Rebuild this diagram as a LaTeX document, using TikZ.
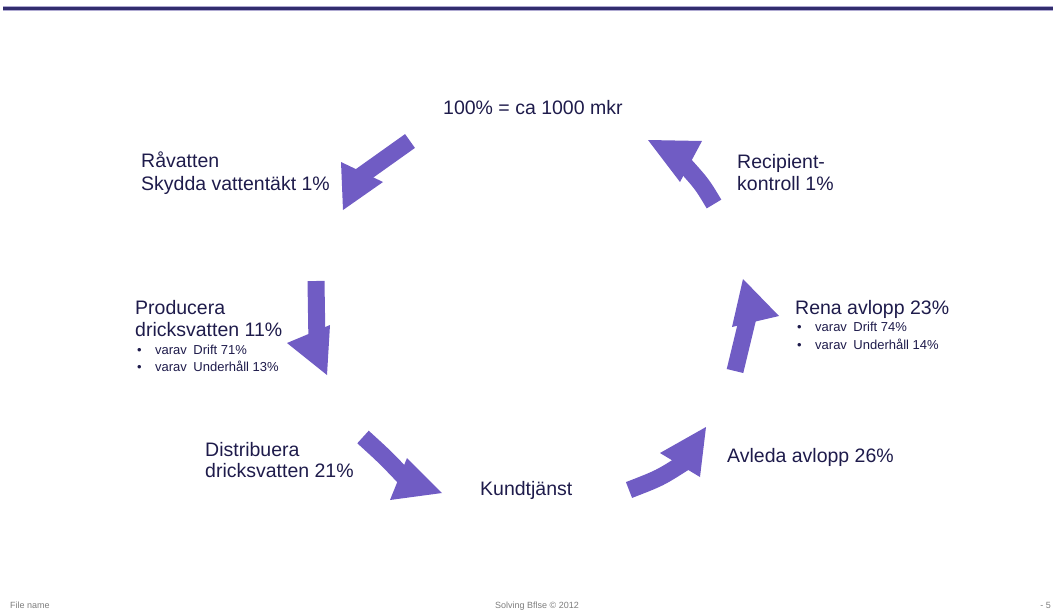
\documentclass[tikz,border=0pt]{standalone}
\usepackage{fontspec}
\setmainfont{Liberation Sans}
\usetikzlibrary{calc}
\definecolor{arrowpurple}{RGB}{112,92,196}
\definecolor{textnavy}{RGB}{30,27,75}
\definecolor{rulenavy}{RGB}{50,45,110}
\definecolor{rulelight}{RGB}{175,170,210}
\definecolor{footgray}{RGB}{125,125,125}

% Block arrow: name, tail, bend point, shaft end, left barb, right barb, tip
\newcommand\purplearrow[7]{%
  \coordinate (#1-tail) at #2;
  \coordinate (#1-bend) at #3;
  \coordinate (#1-end) at #4;
  \coordinate (#1-l) at #5;
  \coordinate (#1-r) at #6;
  \coordinate (#1-tip) at #7;
  \draw[shaft] (#1-tail) .. controls (#1-bend) .. (#1-end);
  \fill[head] (#1-l) -- (#1-tip) -- (#1-r) -- cycle;
}

\begin{document}
\begin{tikzpicture}[x=1pt,y=-1pt,
  lbl/.style={anchor=base west, inner sep=0pt, text=textnavy,
    font=\fontsize{19.5}{22}\selectfont},
  sub/.style={anchor=base west, inner sep=0pt, text=textnavy,
    font=\fontsize{13}{15}\selectfont},
  foot/.style={inner sep=0pt, text=footgray, font=\fontsize{9}{10}\selectfont},
  shaft/.style={draw=arrowpurple, line width=17pt},
  head/.style={fill=arrowpurple}]
\useasboundingbox (0,0) rectangle (1053,611);

% header rule
\draw[rulelight, line width=5pt] (3,8.5) -- (1053,8.5);
\draw[rulenavy, line width=3pt] (3,8.5) -- (1053,8.5);

% cycle arrows
\purplearrow{a1}{(410,141)}{(384,159)}{(358,178)}{(341,162)}{(383,182)}{(343,210)}
\purplearrow{a2}{(316,281)}{(317,313)}{(317,345)}{(287,343)}{(330,325)}{(327,375)}
\purplearrow{a3}{(363,437)}{(385,457)}{(405,478)}{(407,458)}{(390,500)}{(442,493)}
\purplearrow{a4}{(629,490)}{(660,478)}{(685,462)}{(660,453)}{(700,477)}{(706,427)}
\purplearrow{a5}{(735,371)}{(742,342)}{(749,313)}{(732,327)}{(779,316)}{(743,279)}
\purplearrow{a6}{(714,204)}{(702,184)}{(684,164)}{(702,141)}{(680,182)}{(648,140)}

% labels
\node[lbl] (total) at (443,114) {100\% = ca 1000 mkr};
\node[lbl] (raw1) at (141,167) {Råvatten};
\node[lbl] (raw2) at (141,190) {Skydda vattentäkt 1\%};
\node[lbl] (prod1) at (135,314) {Producera};
\node[lbl] (prod2) at (135,336) {dricksvatten 11\%};
\node[sub] (prodA) at (137,354) {\makebox[18pt][l]{\textbullet}varav\enspace Drift 71\%};
\node[sub] (prodB) at (137,371) {\makebox[18pt][l]{\textbullet}varav\enspace Underhåll 13\%};
\node[lbl] (dist1) at (205,456) {Distribuera};
\node[lbl] (dist2) at (205,477) {dricksvatten 21\%};
\node[lbl] (kund) at (480,495) {Kundtjänst};
\node[lbl] (avleda) at (727,462) {Avleda avlopp 26\%};
\node[lbl] (rena) at (795,314) {Rena avlopp 23\%};
\node[sub] (renaA) at (797,331) {\makebox[18pt][l]{\textbullet}varav\enspace Drift 74\%};
\node[sub] (renaB) at (797,349) {\makebox[18pt][l]{\textbullet}varav\enspace Underhåll 14\%};
\node[lbl] (rec1) at (737,168) {Recipient-};
\node[lbl] (rec2) at (737,190) {kontroll 1\%};

% footer
\node[foot, anchor=base west] (file) at (10,608) {File name};
\node[foot, anchor=base] (copy) at (537,608) {Solving Bflse © 2012};
\node[foot, anchor=base east] (page) at (1051,608) {- 5};
\end{tikzpicture}
\end{document}
